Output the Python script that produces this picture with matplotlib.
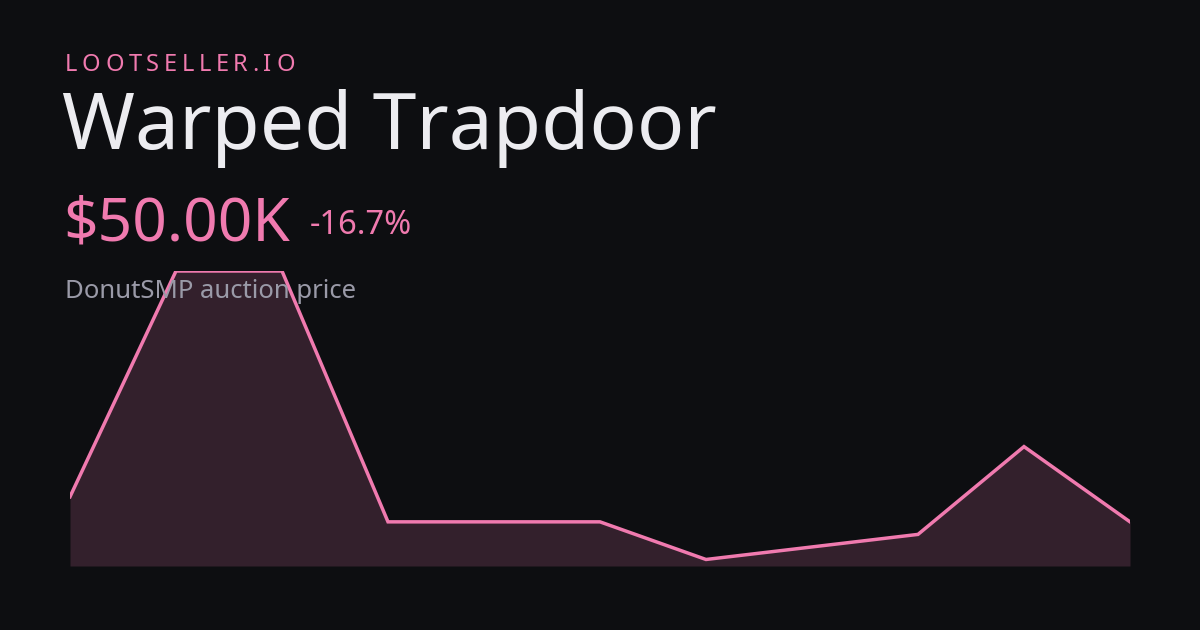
import matplotlib
matplotlib.use("Agg")
import matplotlib.pyplot as plt

values = [60, 150, 150, 50, 50, 50, 35, 40, 45, 80, 50]
brand = "LOOTSELLER.IO"
title = "Warped Trapdoor"
price = "$50.00K"
change = "-16.7%"
subtitle = "DonutSMP auction price"

bg = "#0d0e11"
pink = "#f07aaf"
fig = plt.figure(figsize=(12, 6.3), dpi=100, facecolor=bg)
plt.rcParams['font.family'] = ['Noto Sans', 'DejaVu Sans']

ax = fig.add_axes([70/1200, 64/630, 1060/1200, 295/630])
ax.set_facecolor(bg)
x = list(range(len(values)))
ax.fill_between(x, values, 32.4, color="#33202c", lw=0)
ax.plot(x, values, color=pink, lw=2.5, solid_joinstyle="miter")
ax.set_xlim(0, len(values)-1)
ax.set_ylim(32.4, 150)
ax.axis("off")

# letter-spaced brand
renderer = fig.canvas.get_renderer()
xpos = 65
for ch in brand:
    t = fig.text(xpos/1200, 1-65/630, ch, color=pink, fontsize=17, va="center", ha="left")
    w = t.get_window_extent(renderer).width if ch.strip() else 6
    xpos += w + 4.6

fig.text(62/1200, 1-129/630, title, color="#ececf0", fontsize=56.5, va="center", ha="left")
fig.text(63/1200, 1-225/630, price, color=pink, fontsize=43.5, va="center", ha="left")
fig.text(310/1200, 1-225/630, change, color=pink, fontsize=23.5, va="center", ha="left")
fig.text(65/1200, 1-291/630, subtitle, color="#9a9aa8", fontsize=18.5, va="center", ha="left")
fig.savefig("out.png", dpi=100, facecolor=bg)
